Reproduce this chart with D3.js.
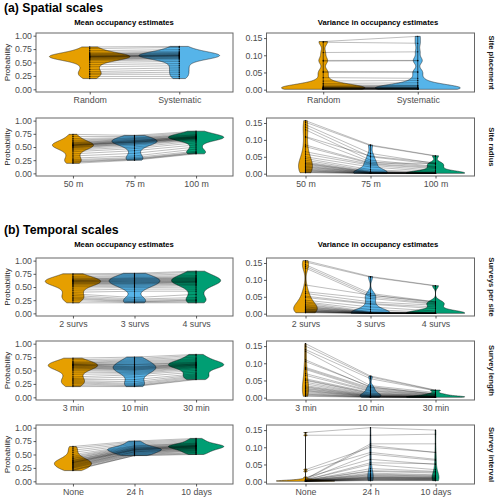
<!DOCTYPE html>
<html><head><meta charset="utf-8">
<script src="https://cdn.jsdelivr.net/npm/d3@7"></script>
<style>body{margin:0;background:#fff} text{font-family:"Liberation Sans",Arial,sans-serif}</style>
</head><body>
<script>
// ---------- data ----------
const sectionTitles = ["(a) Spatial scales", "(b) Temporal scales"];
const columnTitles = ["Mean occupancy estimates", "Variance in occupancy estimates"];
const stripLabels = ["Site placement", "Site radius", "Surveys per site", "Survey length", "Survey interval"];
const yTicksMean = [0, 0.25, 0.5, 0.75, 1];
const yTicksVar = [0, 0.05, 0.10, 0.15];

const placementCats = ["Random", "Systematic"];
const radiusCats = ["50 m", "75 m", "100 m"];
const surveysCats = ["2 survs", "3 survs", "4 survs"];
const lengthCats = ["3 min", "10 min", "30 min"];
const intervalCats = ["None", "24 h", "10 days"];

// one row per site, one column per category
const placementMean = [
[0.79,0.80],[0.76,0.78],[0.72,0.74],[0.69,0.71],[0.67,0.69],[0.66,0.68],[0.65,0.67],[0.64,0.66],
[0.63,0.65],[0.62,0.64],[0.62,0.64],[0.61,0.63],[0.61,0.63],[0.60,0.62],[0.60,0.62],[0.59,0.61],
[0.58,0.60],[0.57,0.59],[0.56,0.58],[0.55,0.57],[0.53,0.55],[0.50,0.52],[0.46,0.48],[0.42,0.44],
[0.37,0.40],[0.33,0.36],[0.30,0.32],[0.28,0.28],[0.24,0.24],[0.20,0.20]];
const placementVar = [
[0.140,0.155],[0.138,0.135],[0.108,0.110],[0.085,0.085],[0.083,0.084],[0.053,0.052],[0.050,0.051],
[0.035,0.033],[0.025,0.027],[0.018,0.020],[0.014,0.013],[0.011,0.012],[0.009,0.010],[0.008,0.008],
[0.007,0.007],[0.006,0.006],[0.006,0.005],[0.005,0.005],[0.005,0.004],[0.004,0.004],[0.004,0.004],
[0.003,0.003],[0.003,0.003],[0.003,0.003],[0.002,0.002],[0.002,0.002],[0.002,0.002],[0.001,0.001],
[0.001,0.001],[0.001,0.001]];

const radiusMean = [
[0.74,0.72,0.80],[0.70,0.70,0.78],[0.66,0.68,0.76],[0.63,0.67,0.74],[0.61,0.66,0.73],[0.59,0.65,0.72],
[0.58,0.64,0.71],[0.57,0.63,0.70],[0.56,0.62,0.70],[0.55,0.62,0.69],[0.54,0.61,0.69],[0.54,0.60,0.68],
[0.53,0.60,0.68],[0.53,0.59,0.67],[0.52,0.59,0.67],[0.51,0.58,0.66],[0.50,0.57,0.66],[0.49,0.56,0.65],
[0.48,0.55,0.64],[0.46,0.53,0.63],[0.44,0.50,0.61],[0.41,0.47,0.58],[0.37,0.43,0.54],[0.33,0.38,0.50],
[0.29,0.33,0.46],[0.26,0.30,0.42],[0.24,0.28,0.40],[0.22,0.27,0.39],[0.21,0.26,0.38],[0.19,0.25,0.37]];
const radiusVar = [
[0.157,0.085,0.053],[0.152,0.083,0.052],[0.145,0.060,0.030],[0.138,0.050,0.028],[0.130,0.040,0.022],
[0.110,0.052,0.032],[0.108,0.035,0.020],[0.085,0.032,0.030],[0.080,0.030,0.018],[0.065,0.028,0.015],
[0.058,0.025,0.010],[0.050,0.020,0.006],[0.045,0.012,0.004],[0.040,0.008,0.003],[0.035,0.006,0.003],
[0.032,0.005,0.002],[0.030,0.004,0.002],[0.028,0.004,0.002],[0.025,0.003,0.002],[0.022,0.003,0.001],
[0.020,0.003,0.001],[0.018,0.002,0.001],[0.015,0.002,0.001],[0.013,0.002,0.001],[0.011,0.002,0.001],
[0.009,0.001,0.001],[0.008,0.001,0.001],[0.006,0.001,0.001],[0.004,0.001,0.001],[0.003,0.001,0.001]];

const surveysMean = [
[0.75,0.76,0.80],[0.73,0.74,0.78],[0.70,0.72,0.75],[0.68,0.70,0.72],[0.66,0.68,0.70],[0.65,0.67,0.68],
[0.64,0.66,0.67],[0.63,0.65,0.66],[0.62,0.64,0.65],[0.62,0.63,0.64],[0.61,0.62,0.63],[0.60,0.61,0.62],
[0.60,0.60,0.61],[0.59,0.59,0.60],[0.58,0.58,0.60],[0.57,0.57,0.59],[0.56,0.56,0.58],[0.55,0.55,0.56],
[0.53,0.53,0.55],[0.51,0.51,0.53],[0.48,0.49,0.50],[0.44,0.46,0.46],[0.40,0.42,0.42],[0.37,0.30,0.36],
[0.34,0.27,0.30],[0.31,0.25,0.27],[0.29,0.23,0.25],[0.27,0.22,0.24],[0.24,0.21,0.22],[0.20,0.20,0.20]];
const surveysVar = [
[0.157,0.110,0.083],[0.153,0.108,0.082],[0.145,0.060,0.035],[0.140,0.055,0.033],[0.135,0.050,0.030],
[0.085,0.055,0.035],[0.065,0.045,0.028],[0.060,0.035,0.025],[0.052,0.030,0.020],[0.048,0.028,0.015],
[0.040,0.020,0.008],[0.035,0.012,0.004],[0.032,0.006,0.003],[0.028,0.004,0.002],[0.025,0.004,0.002],
[0.022,0.003,0.002],[0.020,0.003,0.002],[0.018,0.003,0.001],[0.016,0.002,0.001],[0.014,0.002,0.001],
[0.013,0.002,0.001],[0.012,0.002,0.001],[0.010,0.001,0.001],[0.009,0.001,0.001],[0.008,0.001,0.001],
[0.007,0.001,0.001],[0.006,0.001,0.001],[0.005,0.001,0.001],[0.004,0.001,0.001],[0.003,0.001,0.001]];

const lengthMean = [
[0.73,0.75,0.80],[0.70,0.72,0.78],[0.67,0.70,0.75],[0.65,0.68,0.72],[0.64,0.66,0.70],[0.63,0.64,0.68],
[0.62,0.62,0.66],[0.61,0.61,0.65],[0.61,0.60,0.64],[0.60,0.58,0.63],[0.60,0.57,0.62],[0.59,0.56,0.62],
[0.58,0.55,0.61],[0.57,0.54,0.60],[0.56,0.53,0.60],[0.55,0.52,0.59],[0.54,0.51,0.58],[0.52,0.50,0.57],
[0.50,0.48,0.56],[0.47,0.46,0.55],[0.43,0.44,0.53],[0.38,0.42,0.50],[0.35,0.38,0.47],[0.33,0.33,0.44],
[0.31,0.29,0.42],[0.29,0.26,0.40],[0.27,0.24,0.38],[0.25,0.22,0.36],[0.22,0.21,0.34],[0.20,0.20,0.33]];
const lengthVar = [
[0.157,0.063,0.022],[0.150,0.060,0.021],[0.140,0.055,0.020],[0.135,0.035,0.015],[0.110,0.030,0.012],
[0.105,0.032,0.010],[0.088,0.028,0.010],[0.085,0.025,0.009],[0.082,0.022,0.008],[0.070,0.020,0.007],
[0.065,0.018,0.006],[0.055,0.015,0.005],[0.052,0.013,0.005],[0.050,0.012,0.004],[0.045,0.010,0.004],
[0.040,0.009,0.003],[0.035,0.008,0.003],[0.032,0.007,0.003],[0.030,0.006,0.002],[0.027,0.005,0.002],
[0.025,0.005,0.002],[0.022,0.004,0.002],[0.020,0.004,0.001],[0.018,0.003,0.001],[0.015,0.003,0.001],
[0.012,0.002,0.001],[0.010,0.002,0.001],[0.008,0.002,0.001],[0.006,0.001,0.001],[0.004,0.001,0.001]];

const intervalMean = [
[0.65,0.75,0.80],[0.62,0.73,0.78],[0.58,0.71,0.76],[0.54,0.69,0.74],[0.50,0.67,0.72],[0.47,0.66,0.71],
[0.45,0.65,0.70],[0.43,0.64,0.69],[0.42,0.63,0.68],[0.40,0.62,0.67],[0.39,0.62,0.67],[0.38,0.61,0.66],
[0.37,0.60,0.66],[0.36,0.60,0.65],[0.35,0.59,0.65],[0.35,0.59,0.64],[0.34,0.58,0.64],[0.33,0.58,0.63],
[0.32,0.57,0.62],[0.31,0.56,0.62],[0.30,0.55,0.61],[0.29,0.55,0.60],[0.28,0.54,0.59],[0.27,0.53,0.58],
[0.26,0.52,0.57],[0.25,0.51,0.56],[0.24,0.50,0.54],[0.22,0.49,0.53],[0.21,0.48,0.51],[0.20,0.48,0.50]];
const intervalVar = [
[0.143,0.157,0.150],[0.135,0.135,0.138],[0.008,0.110,0.110],[0.007,0.105,0.085],[0.035,0.100,0.085],
[0.030,0.085,0.065],[0.006,0.080,0.062],[0.012,0.065,0.050],[0.005,0.055,0.052],[0.005,0.050,0.035],
[0.004,0.038,0.030],[0.004,0.032,0.028],[0.004,0.030,0.025],[0.003,0.025,0.020],[0.003,0.022,0.018],
[0.003,0.020,0.016],[0.003,0.018,0.015],[0.002,0.016,0.013],[0.002,0.014,0.012],[0.002,0.013,0.011],
[0.002,0.012,0.010],[0.002,0.011,0.010],[0.001,0.010,0.009],[0.001,0.009,0.008],[0.001,0.008,0.007],
[0.001,0.007,0.006],[0.001,0.006,0.005],[0.001,0.005,0.005],[0.001,0.004,0.004],[0.001,0.003,0.003]];

// ---------- layout ----------
const W = 499, H = 500;
const colors = ["#E69F00", "#56B4E9", "#009E73"];
const rows = [
  {top: 33, bottom: 92, cats: placementCats, mean: placementMean, vari: placementVar},
  {top: 118, bottom: 176, cats: radiusCats, mean: radiusMean, vari: radiusVar},
  {top: 258, bottom: 316, cats: surveysCats, mean: surveysMean, vari: surveysVar},
  {top: 341, bottom: 400, cats: lengthCats, mean: lengthMean, vari: lengthVar},
  {top: 425, bottom: 484, cats: intervalCats, mean: intervalMean, vari: intervalVar}
];
const cols = [{x0: 36, x1: 233}, {x0: 266.5, x1: 474.5}];

const svg = d3.select("body").append("svg").attr("width", W).attr("height", H);

function kde(vals) {
  const x = vals.slice().sort(d3.ascending);
  const n = x.length;
  const sd = d3.deviation(x);
  const iqr = d3.quantileSorted(x, 0.75) - d3.quantileSorted(x, 0.25);
  let lo = Math.min(sd, iqr / 1.34);
  if (!(lo > 0)) lo = sd > 0 ? sd : 1;
  const bw = 0.9 * lo * Math.pow(n, -0.2);
  const mn = x[0], mx = x[n - 1];
  const pts = [];
  for (let i = 0; i < 512; i++) {
    const t = mn + (mx - mn) * i / 511;
    let s = 0;
    for (const v of x) { const z = (t - v) / bw; s += Math.exp(-0.5 * z * z); }
    pts.push({t, d: s / (n * bw * Math.sqrt(2 * Math.PI))});
  }
  return pts;
}

// section and column titles
svg.append("text").attr("x", 4).attr("y", 11.5).attr("font-size", 12.2).attr("font-weight", "bold").text(sectionTitles[0]);
svg.append("text").attr("x", 4).attr("y", 233.5).attr("font-size", 12.3).attr("font-weight", "bold").text(sectionTitles[1]);
[25.3, 246.5].forEach(y => {
  svg.append("text").attr("x", 124).attr("y", y).attr("text-anchor", "middle").attr("font-size", 7.7).attr("font-weight", "bold").text(columnTitles[0]);
  svg.append("text").attr("x", 378).attr("y", y).attr("text-anchor", "middle").attr("font-size", 7.7).attr("font-weight", "bold").text(columnTitles[1]);
});

function drawPanel(row, colIdx, data, ri) {
  const c = cols[colIdx];
  const xs = d3.scalePoint().domain(row.cats).range([c.x0, c.x1]).padding(0.6);
  const ys = colIdx === 0
    ? d3.scaleLinear().domain([-0.05, 1.05]).range([row.bottom, row.top])
    : d3.scaleLinear().domain([-0.0068, 0.1648]).range([row.bottom, row.top]);
  const g = svg.append("g");
  const step = xs.step();
  const groups = row.cats.map((cat, j) => data.map(r => r[j]));
  const dens = groups.map(kde);
  const maxD = d3.max(dens, ds => d3.max(ds, d => d.d));

  // violins
  row.cats.forEach((cat, j) => {
    const xc = xs(cat);
    const area = d3.area()
      .y(d => ys(d.t))
      .x0(d => xc - d.d / maxD * 0.45 * step)
      .x1(d => xc + d.d / maxD * 0.45 * step);
    g.append("path").attr("d", area(dens[j]))
      .attr("fill", colors[j]).attr("stroke", "#1a1a1a").attr("stroke-width", 0.5);
  });

  // site lines
  const line = d3.line().x((v, j) => xs(row.cats[j])).y(v => ys(v));
  data.forEach(r => {
    g.append("path").attr("d", line(r)).attr("fill", "none")
      .attr("stroke", "#000").attr("stroke-opacity", 0.32).attr("stroke-width", 0.8);
  });

  // center lines and points
  row.cats.forEach((cat, j) => {
    const xc = xs(cat);
    const ext = d3.extent(groups[j]);
    g.append("line").attr("x1", xc).attr("x2", xc).attr("y1", ys(ext[0])).attr("y2", ys(ext[1]))
      .attr("stroke", "#000").attr("stroke-width", 0.6);
    groups[j].forEach(v => {
      g.append("circle").attr("cx", xc).attr("cy", ys(v)).attr("r", 0.6).attr("fill", "#000");
    });
  });

  // border
  g.append("rect").attr("x", c.x0).attr("y", row.top).attr("width", c.x1 - c.x0).attr("height", row.bottom - row.top)
    .attr("fill", "none").attr("stroke", "#666").attr("stroke-width", 1);

  // axes
  const ya = d3.axisLeft(ys).tickValues(colIdx === 0 ? yTicksMean : yTicksVar)
    .tickFormat(d3.format(".2f")).tickSize(2.5).tickPadding(1.5);
  const yg = svg.append("g").attr("transform", `translate(${c.x0},0)`).call(ya);
  const xa = d3.axisBottom(xs).tickSize(2.5).tickPadding(2);
  const xg = svg.append("g").attr("transform", `translate(0,${row.bottom})`).call(xa);
  [yg, xg].forEach(a => {
    a.select(".domain").remove();
    a.selectAll(".tick line").attr("stroke", "#333").attr("stroke-width", 0.8);
    a.selectAll(".tick text").attr("fill", "#4d4d4d").attr("font-size", 8.8)
      .attr("font-family", '"Liberation Sans",Arial,sans-serif');
  });

  const cy = (row.top + row.bottom) / 2;
  if (colIdx === 0) {
    svg.append("text").attr("transform", `translate(9.5,${cy}) rotate(-90)`)
      .attr("text-anchor", "middle").attr("font-size", 8).attr("fill", "#1a1a1a").text("Probability");
  } else {
    svg.append("text").attr("transform", `translate(489,${cy}) rotate(90)`)
      .attr("text-anchor", "middle").attr("font-size", 7.7).attr("font-weight", "bold")
      .attr("fill", "#1a1a1a").text(stripLabels[ri]);
  }
}

rows.forEach((row, ri) => {
  drawPanel(row, 0, row.mean, ri);
  drawPanel(row, 1, row.vari, ri);
});
</script>
</body></html>
